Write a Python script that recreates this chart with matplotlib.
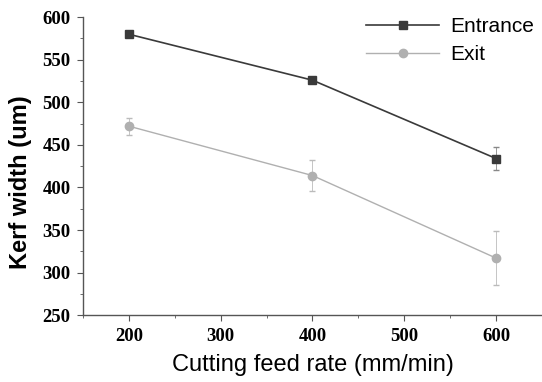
import matplotlib
matplotlib.use("Agg")
import matplotlib.pyplot as plt
from matplotlib.ticker import MultipleLocator

feed_rate = [200, 400, 600]
entrance = [580, 526, 434]
entrance_err = [3, 3, 13]
exit_vals = [472, 414, 317]
exit_err = [10, 18, 32]

fig = plt.figure(figsize=(5.42, 3.82), dpi=100)
ax = fig.add_axes([0.153, 0.175, 0.847, 0.78])

ax.errorbar(feed_rate, entrance, yerr=entrance_err, fmt="none", capsize=2,
            elinewidth=0.6, ecolor="#888888")
ax.errorbar(feed_rate, exit_vals, yerr=exit_err, fmt="none", capsize=2,
            elinewidth=0.6, ecolor="#bbbbbb")
ax.plot(feed_rate, entrance, color="#3a3a3a", marker="s", markersize=6,
        linewidth=1.2, label="Entrance")
ax.plot(feed_rate, exit_vals, color="#b0b0b0", marker="o", markersize=6,
        linewidth=1.0, label="Exit")

ax.set_xlim(150, 650)
ax.set_ylim(250, 600)
ax.xaxis.set_major_locator(MultipleLocator(100))
ax.xaxis.set_minor_locator(MultipleLocator(50))
ax.yaxis.set_major_locator(MultipleLocator(50))
ax.yaxis.set_minor_locator(MultipleLocator(25))

for s in ["top", "right"]:
    ax.spines[s].set_visible(False)
for s in ["left", "bottom"]:
    ax.spines[s].set_color("#555555")
    ax.spines[s].set_linewidth(1.0)

ax.tick_params(which="major", direction="out", length=4, width=0.8, color="#555555", pad=5)
ax.tick_params(which="minor", direction="out", length=2, width=0.6, color="#555555")
for lab in ax.get_xticklabels() + ax.get_yticklabels():
    lab.set_fontfamily("Liberation Serif")
    lab.set_fontweight("bold")
    lab.set_fontsize(13.5)

ax.set_xlabel("Cutting feed rate (mm/min)", fontfamily="Liberation Sans",
              fontsize=17, labelpad=7)
ax.set_ylabel("Kerf width (um)", fontfamily="Liberation Sans", fontweight="bold",
              fontsize=17)
ax.yaxis.set_label_coords(-0.112, 0.445)

leg = ax.legend(loc="upper right", frameon=False,
                prop={"family": "Liberation Sans", "size": 15},
                handlelength=3.5, borderaxespad=0.0, bbox_to_anchor=(1.0, 1.027),
                labelspacing=0.4, handletextpad=0.5)

fig.savefig("out.png", dpi=100)
